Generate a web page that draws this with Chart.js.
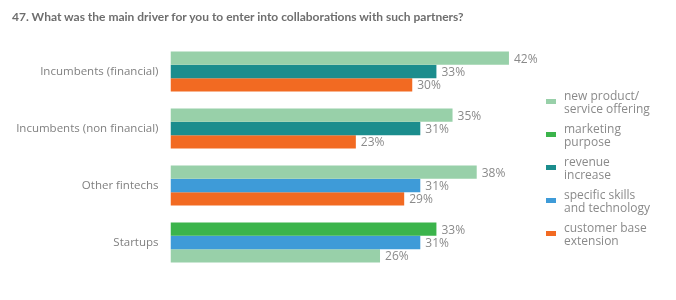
<!DOCTYPE html>
<html>
<head>
<meta charset="utf-8">
<script src="https://cdn.jsdelivr.net/npm/chart.js@4"></script>
<style>
  body { margin: 0; background: #fff; }
  #wrap { position: relative; width: 676px; height: 300px; font-family: "Open Sans", "Liberation Sans", sans-serif; }
  #title { position: absolute; left: 12px; top: 9px; font-family: Lato, sans-serif; font-size: 12px; font-weight: bold; color: #6e6e6e; white-space: nowrap; }
  #legend { position: absolute; left: 546px; top: 90px; font-size: 12px; line-height: 12.5px; color: #8a8a8a; }
  .item { position: relative; padding-left: 18px; height: 33px; }
  .sw { position: absolute; left: 0; top: 9px; width: 10px; height: 5px; }
</style>
</head>
<body>
<div id="wrap">
  <canvas id="chart" width="676" height="300"></canvas>
  <div id="title">47. What was the main driver for you to enter into collaborations with such partners?</div>
  <div id="legend"></div>
</div>
<script>
const categories = ['Incumbents (financial)', 'Incumbents (non financial)', 'Other fintechs', 'Startups'];

// values per driver, null where the driver is not shown for that partner type
const newProduct = [42, 35, 38, 26];
const marketing = [null, null, null, 33];
const revenue = [33, 31, null, null];
const skills = [null, null, 31, 31];
const customerBase = [30, 23, 29, null];

// order of the three bars inside each group (top to bottom)
const barOrder = [
    ['newProduct', 'revenue', 'customerBase'],
    ['newProduct', 'revenue', 'customerBase'],
    ['newProduct', 'skills', 'customerBase'],
    ['marketing', 'skills', 'newProduct']
];

const series = {
    newProduct: { label: 'new product/\nservice offering', data: newProduct, color: '#98d0a9' },
    marketing: { label: 'marketing\npurpose', data: marketing, color: '#3bb44b' },
    revenue: { label: 'revenue\nincrease', data: revenue, color: '#1b8d8d' },
    skills: { label: 'specific skills\nand technology', data: skills, color: '#3e9bd8' },
    customerBase: { label: 'customer base\nextension', data: customerBase, color: '#f26a22' }
};

// build one dataset per bar slot, colouring each bar by its driver
const datasets = [0, 1, 2].map(slot => ({
    data: categories.map((c, i) => series[barOrder[i][slot]].data[i]),
    backgroundColor: categories.map((c, i) => series[barOrder[i][slot]].color),
    categoryPercentage: 0.7,
    barPercentage: 1
}));

const valueLabels = {
    id: 'valueLabels',
    afterDatasetsDraw(chart) {
        const ctx = chart.ctx;
        ctx.save();
        ctx.font = '12px "Open Sans", "Liberation Sans", sans-serif';
        ctx.fillStyle = '#8a8a8a';
        ctx.textBaseline = 'middle';
        chart.data.datasets.forEach((ds, di) => {
            chart.getDatasetMeta(di).data.forEach((bar, i) => {
                ctx.fillText(ds.data[i] + '%', bar.x + 5, bar.y + 1);
            });
        });
        ctx.restore();
    }
};

new Chart(document.getElementById('chart'), {
    type: 'bar',
    data: { labels: categories, datasets: datasets },
    options: {
        indexAxis: 'y',
        responsive: false,
        animation: false,
        layout: { padding: { left: 0, right: 22, top: 43, bottom: 29 } },
        plugins: { legend: { display: false }, tooltip: { enabled: false } },
        scales: {
            x: { display: false, min: 0, max: 60 },
            y: {
                grid: { display: false },
                border: { display: false },
                ticks: {
                    padding: 4,
                    color: '#808080',
                    font: { family: '"Open Sans", "Liberation Sans", sans-serif', size: 11.5 }
                },
                afterFit(scale) { scale.width = 170.5; }
            }
        }
    },
    plugins: [valueLabels]
});

const legend = document.getElementById('legend');
['newProduct', 'marketing', 'revenue', 'skills', 'customerBase'].forEach(key => {
    const s = series[key];
    const item = document.createElement('div');
    item.className = 'item';
    item.innerHTML = '<span class="sw" style="background:' + s.color + '"></span>' + s.label.replace('\n', '<br>');
    legend.appendChild(item);
});
</script>
</body>
</html>
